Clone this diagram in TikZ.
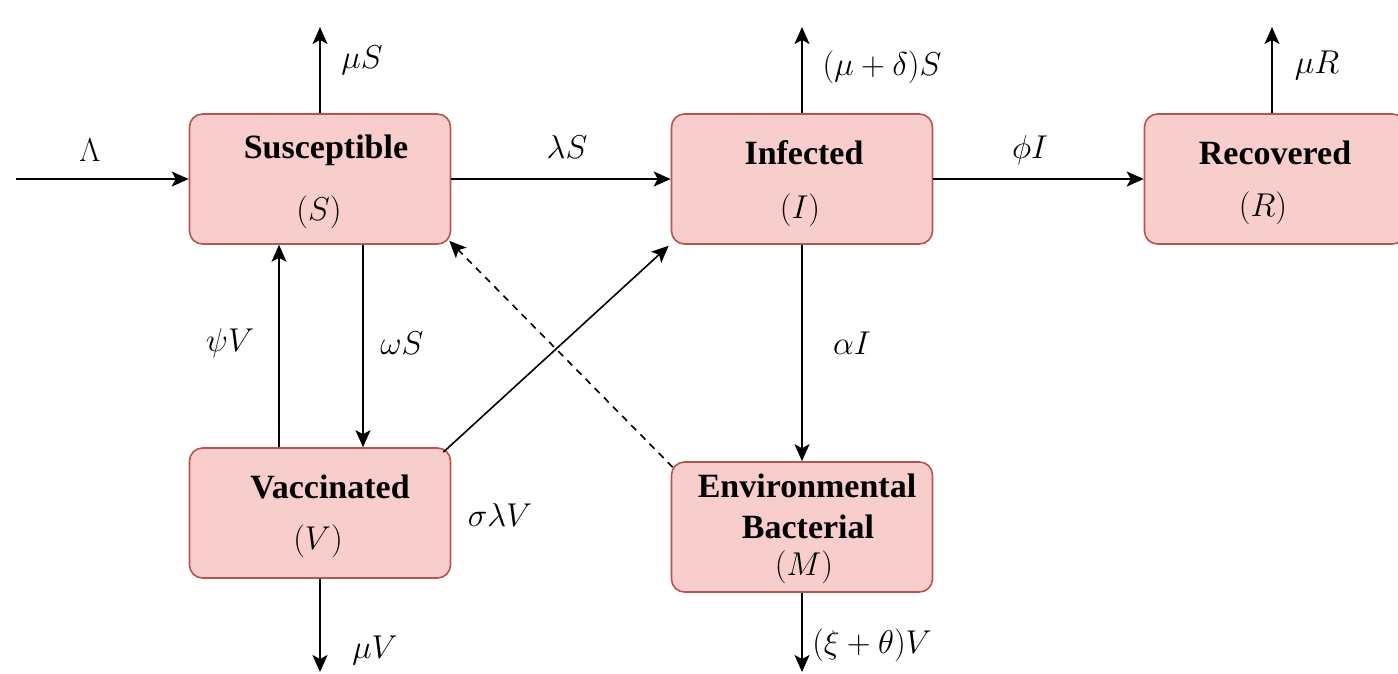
\RequirePackage{fix-cm}
\documentclass[tikz,border=0pt]{standalone}
\usepackage{fontspec}
\setmainfont{Liberation Serif}
\usetikzlibrary{arrows.meta}
\definecolor{boxfill}{HTML}{F8CECC}
\definecolor{boxline}{HTML}{B85450}
\tikzset{
  compbox/.style={draw=boxline, fill=boxfill, line width=1.6pt, rounded corners=13pt,
    minimum width=261pt, minimum height=130pt, inner sep=0pt},
  boxtext/.style={font=\fontsize{34}{40}\selectfont\bfseries, inner sep=0pt, align=center},
  mathtext/.style={font=\fontsize{33}{40}\selectfont, inner sep=0pt},
  arr/.style={line width=1.6pt, -{Stealth[length=17pt,width=15pt,inset=4pt]}},
  dasharr/.style={arr, dash pattern=on 7pt off 6pt}
}
\begin{document}
\begin{tikzpicture}[x=1pt,y=-1pt]
\useasboundingbox (0,0) rectangle (1398,673);
% boxes
\node[compbox] (S) at (320,179) {};
\node[compbox] (I) at (802,179) {};
\node[compbox] (R) at (1275,179) {};
\node[compbox] (V) at (320,513) {};
\node[compbox] (M) at (802,527) {};
% box texts
\node[boxtext] (St) at (326,150) {Susceptible};
\node[mathtext] (Sm) at (319,212) {$(S)$};
\node[boxtext] (It) at (804,153) {Infected};
\node[mathtext] (Im) at (800,210) {$(I)$};
\node[boxtext] (Rt) at (1275,153) {Recovered};
\node[mathtext] (Rm) at (1263,208) {$(R)$};
\node[boxtext] (Vt) at (330,487) {Vaccinated};
\node[mathtext] (Vm) at (318,541) {$(V)$};
\node[boxtext] (Mt1) at (807,486) {Environmental};
\node[boxtext] (Mt2) at (808,527) {Bacterial};
\node[mathtext] (Mm) at (804,567) {$(M)$};
% free ends
\coordinate (in) at (16,179);
\coordinate (Stop) at (320,27);
\coordinate (Itop) at (802,27);
\coordinate (Rtop) at (1272,27);
\coordinate (Vbot) at (320,672);
\coordinate (Mbot) at (802,672);
% connectors
\draw[arr] (in) -- (S.west);
\draw[arr] (S.north) -- (Stop);
\draw[arr] (S.east) -- (I.west);
\draw[arr] (I.north) -- (Itop);
\draw[arr] (I.east) -- (R.west);
\draw[arr] ([xshift=-3pt]R.north) -- (Rtop);
\draw[arr] ([xshift=43pt]S.south) -- ([xshift=43pt]V.north);
\draw[arr] ([xshift=-41pt]V.north) -- ([xshift=-41pt]S.south);
\draw[arr] ([shift={(-8,5)}]V.north east) -- ([shift={(-2,1)}]I.south west);
\draw[dasharr] ([shift={(2,6)}]M.north west) -- ([shift={(-2,-4)}]S.south east);
\draw[arr] (I.south) -- (M.north);
\draw[arr] (V.south) -- (Vbot);
\draw[arr] (M.south) -- (Mbot);
% labels
\node[mathtext] (lLam) at (90,150) {$\Lambda$};
\node[mathtext] (lmuS) at (362,60) {$\mu S$};
\node[mathtext] (llamS) at (567,147) {$\lambda S$};
\node[mathtext] (lmud) at (882,67) {$(\mu+\delta)S$};
\node[mathtext] (lphi) at (1030,150) {$\phi I$};
\node[mathtext] (lmuR) at (1317,65) {$\mu R$};
\node[mathtext] (lpsi) at (230,343) {$\psi V$};
\node[mathtext] (lom) at (402,343) {$\omega S$};
\node[mathtext] (lsig) at (500,515) {$\sigma\lambda V$};
\node[mathtext] (lal) at (852,343) {$\alpha I$};
\node[mathtext] (lmuV) at (375,650) {$\mu V$};
\node[mathtext] (lxi) at (872,645) {$(\xi+\theta)V$};
\end{tikzpicture}
\end{document}
